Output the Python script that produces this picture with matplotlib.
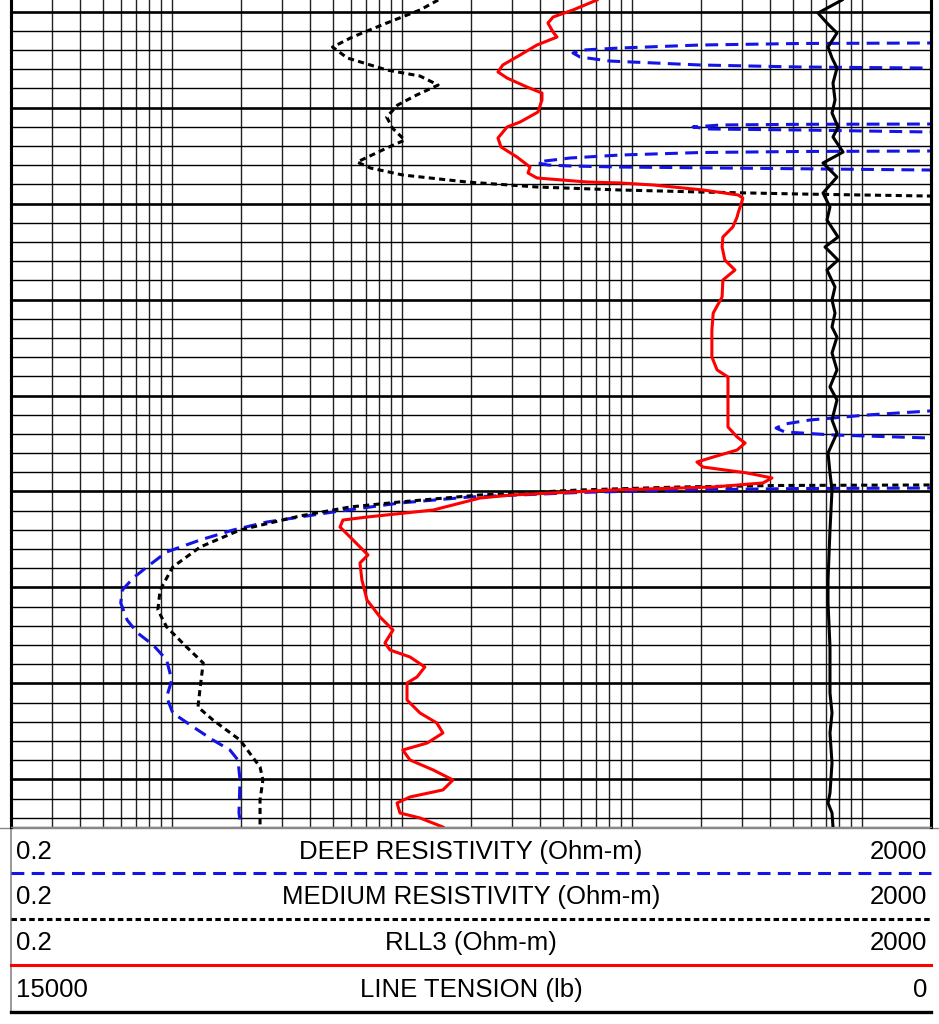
import matplotlib
matplotlib.use("Agg")
import matplotlib.pyplot as plt

# depth in ft, resistivity in ohm-m, tension in lb
medium_depth = [3098.80, 3099.84, 3101.20, 3102.66, 3103.70, 3104.84, 3106.09, 3106.72, 3107.66,
                3108.70, 3109.74, 3110.99, 3112.14, 3113.39, 3114.22, 3115.68, 3116.30, 3117.03,
                3117.76, 3118.28, 3118.59, 3118.80, 3119.01, 3119.22, 3119.43, 3149.11, 3149.32,
                3149.37, 3149.53, 3149.84, 3150.36, 3151.09, 3151.61, 3152.55, 3154.01, 3155.78,
                3157.86, 3160.26, 3162.34, 3164.11, 3166.20, 3167.86, 3170.36, 3172.45, 3173.80,
                3175.89, 3178.70, 3180.05, 3182.14, 3184.95]
medium_res = [14.4, 12.0, 8.6, 6.1, 5.0, 5.8, 8.6, 12.0, 14.4,
              11.6, 9.6, 8.6, 9.1, 10.3, 8.6, 6.4, 7.3, 10.1,
              19.2, 38.7, 88.9, 198, 538, 1980, 6000, 6000, 1980,
              441, 162, 59.6, 21.9, 9.8, 5.96, 3.61, 1.98, 1.33,
              1.01, 0.89, 0.87, 0.95, 1.16, 1.37, 1.33, 1.30, 1.51,
              1.98, 2.42, 2.49, 2.42, 2.42]

deep_depth = [3098.80, 3103.18, 3103.28, 3103.33, 3103.49, 3103.80, 3104.01, 3104.32, 3104.74,
              3105.16, 3105.57, 3105.78, 3105.89, 3105.99,
              3111.61, 3111.72, 3111.75, 3111.82, 3112.03, 3112.24, 3112.34, 3112.55, 3112.66,
              3114.43, 3114.53, 3114.58, 3114.69, 3114.95, 3115.26, 3115.57, 3115.78, 3115.99,
              3116.09, 3116.20, 3116.30, 3116.51, 3116.61,
              3141.51, 3141.61, 3142.03, 3142.55, 3142.97, 3143.39, 3143.80, 3144.11, 3144.43,
              3144.53,
              3149.53, 3149.64, 3149.69, 3149.84, 3150.10, 3150.57, 3151.20, 3152.14, 3153.18,
              3154.01, 3155.05, 3156.30, 3157.86, 3159.01, 3160.26, 3161.61, 3163.39, 3164.74,
              3165.99, 3167.55, 3169.64, 3171.41, 3173.07, 3174.53, 3175.89, 3176.93, 3177.97,
              3180.05, 3183.49, 3184.95]
deep_res = [6000, 6000, 1980, 538, 198, 88.9, 61.4, 55.5, 59.6,
            80.4, 198, 538, 1980, 6000,
            6000, 1980, 538, 244, 184.5, 219, 538, 1980, 6000,
            6000, 1980, 538, 198, 88.9, 53.9, 42.0, 39.1, 43.2,
            53.9, 88.9, 244, 1980, 6000,
            6000, 1980, 1054, 596, 463, 424, 463, 750, 1980,
            6000,
            6000, 1980, 538, 162, 59.6, 19.8, 9.8, 5.02, 2.59,
            1.85, 1.33, 0.95, 0.78, 0.68, 0.61, 0.60, 0.64, 0.71,
            0.83, 0.95, 1.00, 0.95, 1.01, 1.24, 1.51, 1.79, 1.94,
            1.98, 1.96, 2.00]

rll3_depth = [3098.80, 3099.84, 3100.57, 3101.20, 3102.14, 3102.66, 3103.49, 3104.53, 3105.57,
              3106.30, 3106.93, 3107.86, 3108.49, 3109.22, 3110.47, 3111.51, 3112.03, 3113.18,
              3114.11, 3115.16, 3116.20, 3116.82, 3117.34, 3117.76, 3117.86, 3118.07, 3118.59,
              3119.11, 3119.43, 3120.36, 3120.99, 3121.41, 3122.45, 3123.49, 3124.53, 3125.89,
              3126.93, 3127.97, 3129.74, 3131.41, 3133.18, 3135.99, 3137.34, 3138.07, 3140.16,
              3143.28, 3144.32, 3144.95, 3145.68, 3146.41, 3146.93, 3147.45, 3148.07, 3148.59,
              3149.11, 3149.53, 3149.84, 3150.36, 3150.68, 3151.93, 3152.66, 3152.97, 3153.70,
              3154.74, 3156.09, 3156.61, 3157.45, 3159.22, 3161.30, 3163.07, 3164.43, 3165.78,
              3166.51, 3167.24, 3168.28, 3169.32, 3169.95, 3171.72, 3173.07, 3174.11, 3175.16,
              3176.20, 3176.93, 3177.97, 3179.01, 3180.05, 3181.09, 3181.82, 3182.45, 3183.49,
              3184.01, 3184.95]
rll3_res = [70.6, 55.5, 45.5, 43.2, 45.5, 47.3, 38.7, 32.7, 27.5,
            26.2, 28.7, 35.0, 40.7, 40.7, 39.1, 32.7, 28.7, 26.2,
            27.0, 31.7, 36.1, 35.4, 38.7, 63.9, 88.9, 123.7, 204,
            290, 304, 296, 290, 287, 275, 249, 247, 254,
            281, 249, 247, 226, 223, 223, 235, 262, 262,
            262, 287, 311, 287, 226, 192, 204, 317, 407,
            372, 226, 82.9, 30.4, 21.9, 13.7, 7.06, 5.55, 5.39,
            5.96, 6.78, 7.13, 6.58, 6.71, 7.06, 8.04, 9.16, 8.45,
            8.89, 10.86, 12.6, 11.65, 10.54, 10.54, 12.0, 14.2, 15.1,
            12.9, 10.1, 10.86, 13.7, 16.7, 15.1, 10.86, 9.54, 9.82,
            12.0, 15.1]

tension_depth = [3098.80, 3100.16, 3101.20, 3102.24, 3103.70, 3104.84, 3105.89, 3107.45, 3109.22,
                 3110.57, 3112.03, 3113.07, 3114.64, 3115.78, 3117.24, 3118.91, 3120.36, 3121.72,
                 3123.49, 3124.53, 3125.89, 3126.93, 3128.70, 3130.05, 3131.41, 3132.86, 3133.91,
                 3135.57, 3137.34, 3139.11, 3140.47, 3142.55, 3143.91, 3145.99, 3148.07, 3149.84,
                 3154.01, 3159.22, 3161.61, 3166.20, 3170.99, 3173.07, 3175.16, 3178.28, 3181.41,
                 3182.45, 3183.49, 3184.95]
tension_lb = [1451, 1842, 1696, 1533, 1679, 1614, 1533, 1598, 1565,
              1614, 1516, 1598, 1434, 1761, 1533, 1761, 1647, 1696,
              1516, 1728, 1516, 1696, 1565, 1614, 1565, 1614, 1533,
              1614, 1533, 1647, 1533, 1614, 1533, 1679, 1647, 1614,
              1647, 1679, 1679, 1647, 1647, 1614, 1647, 1614, 1647,
              1679, 1614, 1598]

top_depth, bottom_depth = 3098.8, 3184.95
res_min, res_max = 0.2, 2000
tension_left, tension_right = 15000, 0

header_rows = [("0.2", "DEEP RESISTIVITY (Ohm-m)", "2000"),
               ("0.2", "MEDIUM RESISTIVITY (Ohm-m)", "2000"),
               ("0.2", "RLL3 (Ohm-m)", "2000"),
               ("15000", "LINE TENSION (lb)", "0")]

W, H = 939, 1024
fig = plt.figure(figsize=(W / 100, H / 100), dpi=100)
x0, x1 = 11, 931
y_bot = 827
ax = fig.add_axes([x0 / W, 1 - y_bot / H, (x1 - x0) / W, y_bot / H])
ax.set_xscale("log")
ax.set_xlim(res_min, res_max)
ax.set_ylim(bottom_depth, top_depth)

# log grid
for dec in [0.1, 1, 10, 100, 1000]:
    for k in range(1, 10):
        v = dec * k
        if res_min < v < res_max:
            ax.axvline(v, color="#222222", lw=1.0, zorder=1)
for d in range(3100, 3186, 2):
    ax.axhline(d, color="black", lw=1.9 if d % 10 == 0 else 1.0, zorder=1)

blue = "#1414e6"
curve_kw = dict(lw=2.2, solid_joinstyle="round", dash_joinstyle="round")
ax.plot(deep_res, deep_depth, color=blue, dashes=(4.2, 2.4), zorder=3, **curve_kw)
ax.plot(medium_res, medium_depth, color="black", dashes=(2.0, 1.4), zorder=3, **curve_kw)
ax.plot(rll3_res, rll3_depth, color="#ff0000", zorder=4, **curve_kw)

ax2 = ax.twiny()
ax2.set_xlim(tension_left, tension_right)
ax2.plot(tension_lb, tension_depth, color="black", zorder=5, **curve_kw)

for a in (ax, ax2):
    a.set_xticks([])
    a.set_yticks([])
    a.minorticks_off()
    a.tick_params(which="both", length=0)
    a.spines["top"].set_visible(False)
    a.spines["left"].set_linewidth(2.2)
    a.spines["right"].set_linewidth(2.2)
    a.spines["bottom"].set_color("#888888")
    a.spines["bottom"].set_linewidth(1.0)

# header block below the track
hax = fig.add_axes([0, 0, 1, 1], zorder=-1)
hax.set_xlim(0, W)
hax.set_ylim(H, 0)
hax.axis("off")
hax.plot([0, W], [827.5, 827.5], color="#888888", lw=1.0)
hax.plot([x0, x0], [827, 1012], color="#888888", lw=1.2)
text_y = [852, 897, 943, 990]
for (lo, name, hi), ty in zip(header_rows, text_y):
    kw = dict(fontsize=18.5, family="Liberation Sans", va="center")
    hax.text(16, ty, lo, ha="left", **kw)
    hax.text((x0 + x1) / 2, ty, name, ha="center", **kw)
    hax.text(927, ty, hi, ha="right", **kw)
hax.plot([x0, x1], [873, 873], color=blue, lw=2.2, dashes=(4.2, 2.4))
hax.plot([x0, x1], [919, 919], color="black", lw=2.2, dashes=(1.8, 1.1))
hax.plot([x0, x1], [965, 965], color="#ff0000", lw=2.2)
hax.plot([x0, x1], [1011.5, 1011.5], color="black", lw=2.4)

fig.savefig("out.png", dpi=100)
